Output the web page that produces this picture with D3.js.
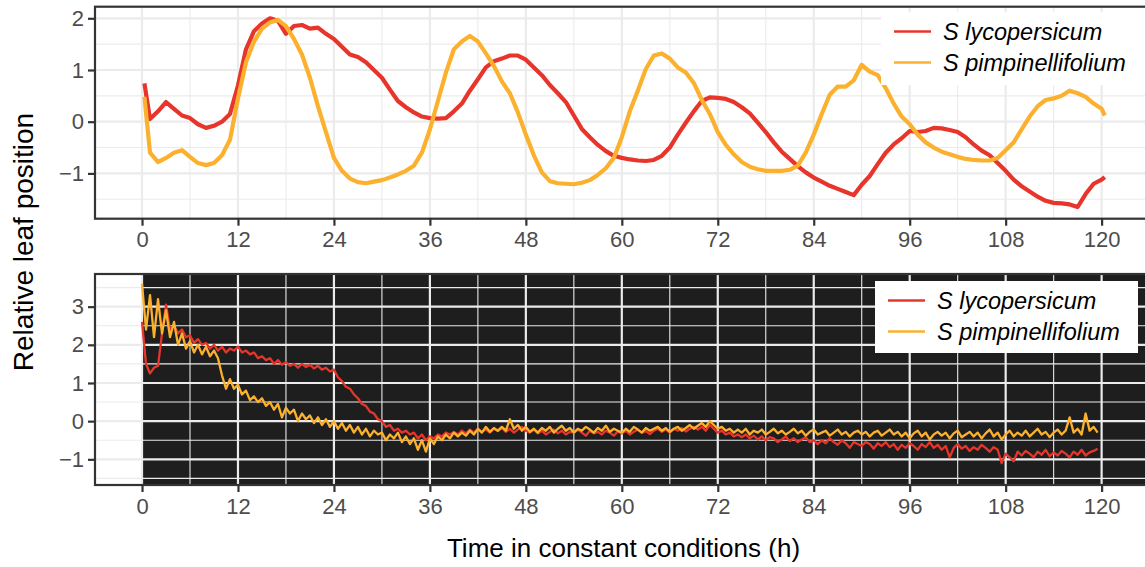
<!DOCTYPE html>
<html>
<head>
<meta charset="utf-8">
<script src="https://cdn.jsdelivr.net/npm/d3@7"></script>
<style>
  body { margin: 0; background: #fff; }
  svg { display: block; }
  text { font-family: "Liberation Sans", Arial, Helvetica, sans-serif; }
</style>
</head>
<body>
<svg id="chart" width="1145" height="567"></svg>
<script>
// ---- data -------------------------------------------------------------
const seriesNames = ["S lycopersicum", "S pimpinellifolium"];
const seriesColors = ["#e8352b", "#fbb02e"];
const xTickValues = [0, 12, 24, 36, 48, 60, 72, 84, 96, 108, 120];
const topYTicks = [-1, 0, 1, 2];
const bottomYTicks = [-1, 0, 1, 2, 3];

// Upper panel: hourly leaf position (h)
const topTime = [0.3, 1,2,3,4,5,6,7,8,9,10,11,12,13,14,15,16,17,18,19,20,
  21,22,23,24,25,26,27,28,29,30,31,32,33,34,35,36,37,38,39,40,
  41,42,43,44,45,46,47,48,49,50,51,52,53,54,55,56,57,58,59,60,
  61,62,63,64,65,66,67,68,69,70,71,72,73,74,75,76,77,78,79,80,
  81,82,83,84,85,86,87,88,89,90,91,92,93,94,95,96,97,98,99,100,
  101,102,103,104,105,106,107,108,109,110,111,112,113,114,115,116,117,118,119,120, 120.4];
const topLyco = [0.74,
  0.05,0.2,0.38,0.25,0.12,0.07,-0.05,-0.12,-0.08,0.0,
  0.15,0.7,1.4,1.75,1.9,2.0,1.95,1.7,1.85,1.87,
  1.8,1.82,1.7,1.6,1.45,1.3,1.25,1.15,1.0,0.85,
  0.62,0.4,0.28,0.18,0.1,0.07,0.06,0.07,0.2,0.35,
  0.6,0.82,1.05,1.17,1.22,1.28,1.28,1.2,1.05,0.9,
  0.71,0.55,0.38,0.12,-0.14,-0.3,-0.45,-0.57,-0.66,-0.7,
  -0.73,-0.75,-0.76,-0.74,-0.66,-0.5,-0.25,-0.02,0.2,0.4,
  0.47,0.46,0.44,0.38,0.28,0.16,-0.02,-0.2,-0.4,-0.58,
  -0.72,-0.86,-0.98,-1.08,-1.16,-1.24,-1.3,-1.36,-1.42,-1.22,
  -1.05,-0.82,-0.6,-0.44,-0.32,-0.18,-0.2,-0.18,-0.12,-0.13,
  -0.16,-0.2,-0.3,-0.44,-0.56,-0.65,-0.8,-0.95,-1.12,-1.25,
  -1.35,-1.45,-1.53,-1.57,-1.58,-1.6,-1.65,-1.4,-1.2,-1.12,
  -1.07];
const topPimp = [0.48,
  -0.6,-0.78,-0.7,-0.6,-0.55,-0.68,-0.8,-0.84,-0.8,-0.65,
  -0.35,0.45,1.15,1.55,1.8,1.92,1.97,1.85,1.6,1.3,
  0.85,0.3,-0.2,-0.7,-0.95,-1.1,-1.17,-1.19,-1.16,-1.13,
  -1.08,-1.02,-0.95,-0.85,-0.6,-0.15,0.4,0.95,1.4,1.55,
  1.66,1.55,1.32,1.08,0.78,0.55,0.18,-0.25,-0.65,-0.98,
  -1.15,-1.19,-1.2,-1.21,-1.18,-1.13,-1.03,-0.9,-0.7,-0.3,
  0.2,0.6,1.02,1.28,1.32,1.22,1.05,0.95,0.75,0.42,
  0.15,-0.2,-0.45,-0.63,-0.78,-0.87,-0.92,-0.95,-0.95,-0.95,
  -0.93,-0.85,-0.6,-0.25,0.15,0.52,0.68,0.68,0.8,1.1,
  0.97,0.9,0.65,0.35,0.1,-0.05,-0.25,-0.4,-0.5,-0.58,
  -0.63,-0.68,-0.72,-0.74,-0.75,-0.75,-0.7,-0.55,-0.4,-0.15,
  0.1,0.3,0.42,0.45,0.5,0.6,0.55,0.48,0.35,0.25,
  0.12];

// Lower panel: half-hourly leaf position, t = 0, 0.5, ... 119.5 h
const bottomTime = d3.range(0, 120, 0.5);
const bottomLyco = [
  2.6,1.5,1.25,1.4,1.45,2.3,3.05,2.4,2.5,2.3,
  2.4,2.2,2.25,2.05,2.15,2.0,2.05,1.9,2.0,1.85,
  1.95,1.8,1.9,1.85,1.95,1.8,1.85,1.75,1.8,1.65,
  1.7,1.6,1.65,1.5,1.6,1.48,1.55,1.45,1.5,1.4,
  1.5,1.42,1.48,1.38,1.45,1.35,1.4,1.3,1.35,1.15,
  1.05,0.9,0.85,0.7,0.6,0.45,0.4,0.25,0.2,0.05,
  0.0,-0.15,-0.1,-0.25,-0.2,-0.3,-0.25,-0.35,-0.3,-0.45,
  -0.35,-0.5,-0.4,-0.45,-0.35,-0.4,-0.3,-0.35,-0.28,-0.35,
  -0.25,-0.32,-0.22,-0.3,-0.2,-0.28,-0.22,-0.3,-0.2,-0.26,
  -0.18,-0.28,-0.2,-0.3,-0.22,-0.15,-0.25,-0.3,-0.22,-0.32,
  -0.25,-0.35,-0.28,-0.22,-0.32,-0.25,-0.35,-0.28,-0.3,-0.22,
  -0.3,-0.38,-0.25,-0.32,-0.28,-0.35,-0.25,-0.3,-0.38,-0.27,
  -0.32,-0.25,-0.35,-0.28,-0.22,-0.3,-0.26,-0.34,-0.25,-0.2,
  -0.28,-0.22,-0.3,-0.2,-0.25,-0.18,-0.27,-0.2,-0.15,-0.22,
  -0.15,-0.25,-0.1,-0.2,-0.3,-0.25,-0.35,-0.3,-0.4,-0.35,
  -0.42,-0.35,-0.45,-0.38,-0.48,-0.4,-0.5,-0.42,-0.45,-0.55,
  -0.48,-0.4,-0.52,-0.45,-0.55,-0.48,-0.42,-0.55,-0.5,-0.6,
  -0.5,-0.58,-0.45,-0.55,-0.62,-0.5,-0.58,-0.7,-0.55,-0.6,
  -0.65,-0.55,-0.6,-0.72,-0.58,-0.65,-0.55,-0.68,-0.6,-0.75,
  -0.62,-0.7,-0.58,-0.65,-0.75,-0.6,-0.68,-0.55,-0.7,-0.62,
  -0.75,-0.65,-0.95,-0.7,-0.6,-0.72,-0.65,-0.78,-0.68,-0.75,
  -0.62,-0.7,-0.8,-0.68,-0.75,-1.1,-0.85,-0.95,-1.05,-0.8,
  -0.9,-0.78,-0.85,-0.95,-0.8,-0.88,-0.75,-0.92,-0.82,-0.9,
  -0.78,-0.85,-0.95,-0.8,-0.88,-0.75,-0.9,-0.82,-0.78,-0.72];
const bottomPimp = [
  3.6,2.4,3.3,2.2,3.2,2.3,2.9,2.2,2.6,2.0,
  2.3,1.9,2.1,1.8,2.0,1.75,1.95,1.7,1.85,1.65,
  1.2,0.85,1.1,0.85,0.95,0.7,0.8,0.55,0.65,0.5,
  0.6,0.4,0.5,0.3,0.45,0.1,0.35,0.2,0.3,0.0,
  0.2,0.05,0.15,-0.05,0.1,-0.1,0.05,-0.15,0.0,-0.2,
  -0.05,-0.25,-0.1,-0.3,-0.15,-0.35,-0.2,-0.4,-0.25,-0.35,
  -0.3,-0.5,-0.35,-0.45,-0.3,-0.55,-0.4,-0.6,-0.45,-0.75,
  -0.5,-0.8,-0.45,-0.6,-0.4,-0.5,-0.35,-0.45,-0.3,-0.4,
  -0.3,-0.38,-0.25,-0.35,-0.2,-0.3,-0.15,-0.28,-0.18,-0.25,
  -0.15,-0.25,0.05,-0.2,-0.1,-0.25,-0.15,-0.28,-0.2,-0.3,
  -0.18,-0.25,-0.15,-0.3,-0.2,-0.12,-0.25,-0.18,-0.3,-0.2,
  -0.25,-0.15,-0.22,-0.3,-0.18,-0.25,-0.12,-0.28,-0.2,-0.25,
  -0.3,-0.2,-0.28,-0.15,-0.22,-0.3,-0.18,-0.25,-0.2,-0.15,
  -0.25,-0.18,-0.28,-0.2,-0.15,-0.25,-0.18,-0.1,-0.2,-0.12,
  -0.05,-0.15,0.0,-0.1,-0.2,-0.15,-0.25,-0.2,-0.3,-0.22,
  -0.3,-0.2,-0.35,-0.25,-0.3,-0.22,-0.35,-0.28,-0.2,-0.32,
  -0.25,-0.35,-0.28,-0.2,-0.32,-0.25,-0.38,-0.28,-0.22,-0.35,
  -0.3,-0.25,-0.38,-0.3,-0.22,-0.35,-0.28,-0.4,-0.3,-0.25,
  -0.35,-0.28,-0.4,-0.3,-0.25,-0.38,-0.3,-0.22,-0.35,-0.28,
  -0.4,-0.3,-0.45,-0.32,-0.25,-0.4,-0.3,-0.48,-0.35,-0.28,
  -0.38,-0.3,-0.45,-0.32,-0.25,-0.42,-0.35,-0.28,-0.4,-0.3,
  -0.45,-0.32,-0.22,-0.4,-0.3,-0.48,-0.35,-0.25,-0.4,-0.3,
  -0.38,-0.25,-0.4,-0.3,-0.2,-0.35,-0.28,-0.42,-0.3,-0.22,
  -0.35,-0.25,0.1,-0.3,-0.2,-0.35,0.2,-0.25,-0.15,-0.3];

// ---- layout -----------------------------------------------------------
const svg = d3.select("#chart");
const panelLeft = 95, panelRight = 1152;

// shared time axis
const x = d3.scaleLinear().domain([-5.88, 126.3]).range([panelLeft, panelRight]);

const panels = [
  {
    top: 6.7, bottom: 218.7, domain: [-1.876, 2.224],
    yTicks: topYTicks, time: topTime, series: [topLyco, topPimp],
    dark: false, lineWidth: 4.2,
    legend: { x: 881, y: 12, w: 270, h: 73 }
  },
  {
    top: 274, bottom: 485, domain: [-1.673, 3.856],
    yTicks: bottomYTicks, time: bottomTime, series: [bottomLyco, bottomPimp],
    dark: true, lineWidth: 2.3,
    legend: { x: 875, y: 281, w: 263, h: 72 }
  }
];

const gridColor = "#ebebeb";
const darkFill = "#1e1e1e";
const axisColor = "#333333";
const tickLabelColor = "#4d4d4d";

panels.forEach((p, pi) => {
  const y = d3.scaleLinear().domain(p.domain).range([p.bottom, p.top]);
  const clipId = "clip" + pi;
  svg.append("clipPath").attr("id", clipId)
    .append("rect")
    .attr("x", panelLeft).attr("y", p.top)
    .attr("width", panelRight - panelLeft).attr("height", p.bottom - p.top);

  const g = svg.append("g").attr("clip-path", `url(#${clipId})`);

  g.append("rect")
    .attr("x", panelLeft).attr("y", p.top)
    .attr("width", panelRight - panelLeft).attr("height", p.bottom - p.top)
    .attr("fill", "#ffffff");

  // constant darkness from t = 0 onward
  if (p.dark) {
    g.append("rect")
      .attr("x", x(0)).attr("y", p.top)
      .attr("width", panelRight - x(0)).attr("height", p.bottom - p.top)
      .attr("fill", darkFill);
  }

  // grid: minor every 6 h / 0.5 units, major every 12 h / 1 unit
  const t1 = x.domain()[1];
  const minorX = d3.range(-6, t1, 12);
  const majorX = d3.range(0, t1, 12);
  const [v0, v1] = p.domain;
  const minorY = d3.range(Math.ceil(v0 - 0.5) + 0.5, v1, 1);
  const majorY = d3.range(Math.ceil(v0), v1 + 1e-9, 1);

  g.selectAll(null).data(minorY).join("line")
    .attr("x1", panelLeft).attr("x2", panelRight)
    .attr("y1", d => y(d)).attr("y2", d => y(d))
    .attr("stroke", gridColor).attr("stroke-width", 1.1);
  g.selectAll(null).data(minorX).join("line")
    .attr("x1", d => x(d)).attr("x2", d => x(d))
    .attr("y1", p.top).attr("y2", p.bottom)
    .attr("stroke", gridColor).attr("stroke-width", 1.1);
  g.selectAll(null).data(majorY).join("line")
    .attr("x1", panelLeft).attr("x2", panelRight)
    .attr("y1", d => y(d)).attr("y2", d => y(d))
    .attr("stroke", gridColor).attr("stroke-width", 2.2);
  g.selectAll(null).data(majorX).join("line")
    .attr("x1", d => x(d)).attr("x2", d => x(d))
    .attr("y1", p.top).attr("y2", p.bottom)
    .attr("stroke", gridColor).attr("stroke-width", 2.2);

  // series
  const line = d3.line()
    .x((d, i) => x(p.time[i]))
    .y(d => y(d));
  p.series.forEach((vals, si) => {
    g.append("path")
      .datum(vals)
      .attr("d", line)
      .attr("fill", "none")
      .attr("stroke", seriesColors[si])
      .attr("stroke-width", p.lineWidth)
      .attr("stroke-linejoin", "round");
  });

  // legend
  const L = p.legend;
  const lg = g.append("g");
  lg.append("rect").attr("x", L.x).attr("y", L.y).attr("width", L.w).attr("height", L.h)
    .attr("fill", "#ffffff");
  seriesNames.forEach((name, si) => {
    const cy = L.y + 19.5 + si * 31;
    lg.append("line")
      .attr("x1", L.x + 13).attr("x2", L.x + 50)
      .attr("y1", cy).attr("y2", cy)
      .attr("stroke", seriesColors[si]).attr("stroke-width", 2.6);
    lg.append("text")
      .attr("x", L.x + 62).attr("y", cy + 8)
      .attr("font-size", 23.5).attr("font-style", "italic")
      .attr("fill", "#000")
      .text(name);
  });

  // panel border
  svg.append("rect")
    .attr("x", panelLeft).attr("y", p.top)
    .attr("width", panelRight - panelLeft).attr("height", p.bottom - p.top)
    .attr("fill", "none").attr("stroke", axisColor).attr("stroke-width", 2.2);

  // axes
  const xAxis = d3.axisBottom(x).tickValues(xTickValues).tickSize(7).tickPadding(6)
    .tickFormat(d3.format("d"));
  const xg = svg.append("g").attr("transform", `translate(0,${p.bottom})`).call(xAxis);
  const yAxis = d3.axisLeft(y).tickValues(p.yTicks).tickSize(7).tickPadding(4)
    .tickFormat(d => d < 0 ? "\u2212" + Math.abs(d) : String(d));
  const yg = svg.append("g").attr("transform", `translate(${panelLeft},0)`).call(yAxis);
  [xg, yg].forEach(ag => {
    ag.select(".domain").remove();
    ag.selectAll(".tick line").attr("stroke", axisColor).attr("stroke-width", 2.2);
    ag.selectAll(".tick text")
      .attr("fill", tickLabelColor)
      .attr("font-size", 22)
      .attr("font-family", "Liberation Sans, Arial, sans-serif");
  });
});

// axis titles
svg.append("text")
  .attr("x", (panelLeft + panelRight) / 2).attr("y", 557)
  .attr("text-anchor", "middle")
  .attr("font-size", 26).attr("fill", "#000")
  .text("Time in constant conditions (h)");
svg.append("text")
  .attr("transform", `translate(33,242) rotate(-90)`)
  .attr("text-anchor", "middle")
  .attr("font-size", 28).attr("fill", "#000")
  .text("Relative leaf position");
</script>
</body>
</html>
